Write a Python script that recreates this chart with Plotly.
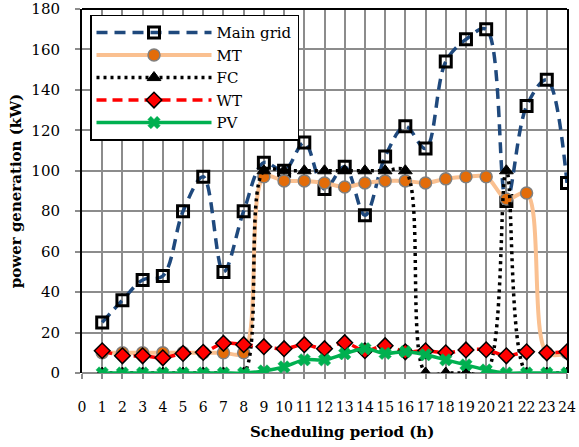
import plotly.graph_objects as go

hours = list(range(1, 25))
x_ticks = list(range(0, 25))
y_ticks = list(range(0, 181, 20))

main_grid = [25, 36, 46, 48, 80, 97, 50, 80, 104, 100, 114, 91, 102, 78, 107, 122,
             111, 154, 165, 170, 85, 132, 145, 94]
mt = [10, 10, 10, 10, 10, 10, 10, 10, 97, 95, 95, 94, 92, 94, 95, 95,
      94, 96, 97, 97, 86, 89, 10, 10]
fc = [0, 0, 0, 0, 0, 0, 0, 0, 100, 100, 100, 100, 100, 100, 100, 100,
      0, 0, 0, 0, 100, 0, 0, 0]
wt = [11, 8.5, 8.5, 7.5, 9.7, 10.2, 14.7, 14, 13, 12, 14, 12, 15, 11, 13.5, 10.5,
      11, 10, 11.4, 11.5, 8.5, 10.5, 10, 10.5]
pv = [0, 0, 0, 0, 0, 0, 0, 0, 1, 3, 6.5, 6.5, 9.5, 12, 9.7, 10.5,
      9, 6.5, 4, 1.5, 0, 0, 0, 0]

SERIF = "DejaVu Serif"

fig = go.Figure()

fig.add_trace(go.Scatter(
    x=hours, y=main_grid, name="Main grid", mode="lines+markers",
    line=dict(color="#1F497D", width=3.5, dash="11px,7px", shape="spline", smoothing=1),
    marker=dict(symbol="square-open", size=11, color="black", line=dict(color="black", width=3)),
))
fig.add_trace(go.Scatter(
    x=hours, y=mt, name="MT", mode="lines+markers",
    line=dict(color="#FAC090", width=4, shape="spline", smoothing=1),
    marker=dict(symbol="circle", size=12, color="#E36C09", line=dict(color="#7F7F7F", width=1.5)),
))
fig.add_trace(go.Scatter(
    x=hours, y=fc, name="FC", mode="lines+markers",
    line=dict(color="black", width=3.5, dash="3px,4px", shape="spline", smoothing=1),
    marker=dict(symbol="triangle-up", size=12, color="black", line=dict(color="black", width=1)),
))
fig.add_trace(go.Scatter(
    x=hours, y=wt, name="WT", mode="lines+markers",
    line=dict(color="#FF0000", width=3.5, dash="10px,6px", shape="spline", smoothing=1),
    marker=dict(symbol="diamond", size=12, color="#FF0000", line=dict(color="black", width=1.5)),
))
fig.add_trace(go.Scatter(
    x=hours, y=pv, name="PV", mode="lines+markers",
    line=dict(color="#00B050", width=3.5, shape="spline", smoothing=1),
    marker=dict(symbol="x", size=11, color="#00B050", line=dict(color="#00B050", width=0.5)),
))

fig.update_layout(
    width=579, height=447,
    margin=dict(l=82, r=12, t=9, b=74, autoexpand=False),
    paper_bgcolor="white", plot_bgcolor="white",
    font=dict(family=SERIF, color="black"),
    showlegend=True,
    legend=dict(
        x=0.0165, y=0.984, xanchor="left", yanchor="top",
        bgcolor="white", bordercolor="black", borderwidth=1.5,
        font=dict(family=SERIF, size=15, color="black"),
        itemwidth=115, tracegroupgap=0,
    ),
    xaxis=dict(
        range=[0, 24], tickmode="array", tickvals=x_ticks,
        ticktext=[str(v) for v in x_ticks], tickangle=0, automargin=False,
        showgrid=True, gridcolor="#8C8C8C", gridwidth=1.5,
        zeroline=False, showline=False,
        ticks="outside", ticklen=5, tickcolor="#8C8C8C", tickwidth=1.5,
        ticklabelstandoff=16,
        tickfont=dict(family=SERIF, size=14, color="black"),
    ),
    yaxis=dict(
        range=[0, 180], tickmode="array", tickvals=y_ticks, automargin=False,
        showgrid=True, gridcolor="#8C8C8C", gridwidth=1.5,
        zeroline=True, zerolinecolor="#8C8C8C", zerolinewidth=1.5,
        showline=True, linecolor="black", linewidth=2, mirror=True,
        ticks="outside", ticklen=5, tickcolor="#8C8C8C", tickwidth=1.5,
        ticklabelstandoff=12,
        tickfont=dict(family=SERIF, size=15, color="black"),
        title=dict(text="<b>power generation (kW)</b>",
                   font=dict(family=SERIF, size=15, color="black"), standoff=6),
    ),
    shapes=[dict(type="line", xref="paper", yref="paper", x0=0, x1=1, y0=1, y1=1,
                 line=dict(color="black", width=2))],
    annotations=[dict(text="<b>Scheduling period (h)</b>", xref="paper", yref="paper",
                      x=0.536, y=-0.162, xanchor="center", yanchor="middle",
                      showarrow=False, font=dict(family=SERIF, size=15, color="black"))],
)

fig.write_html("out.html",
               config={"displayModeBar": False},
               post_script="document.body.style.margin='0';document.body.style.overflow='hidden';")
